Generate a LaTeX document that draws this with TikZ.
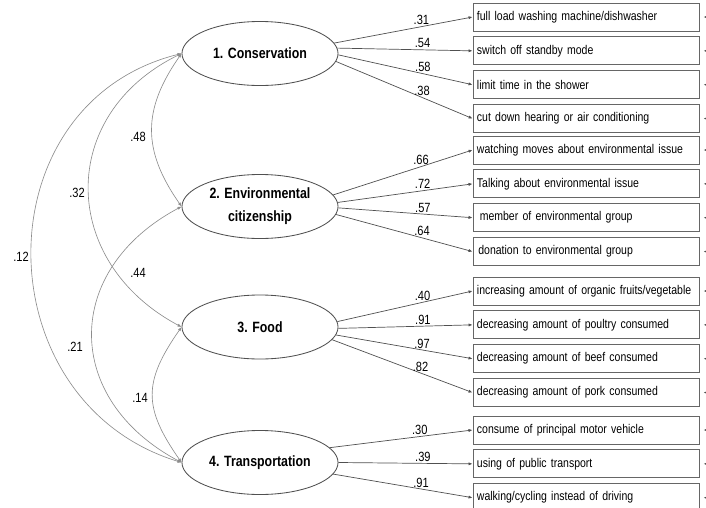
\documentclass[tikz,border=0pt]{standalone}
\usepackage{fontspec}
\setmainfont{Liberation Sans}[FakeStretch=0.83]
\usepackage{tikz}
\usetikzlibrary{arrows.meta,positioning,shapes.geometric}
\definecolor{SEMEdge}{HTML}{505050}
\definecolor{SEMCov}{HTML}{8C8C8C}
\definecolor{SEMBox}{HTML}{666666}

\begin{document}
\begin{tikzpicture}[x=0.025cm,y=0.025cm,
  factor/.style={ellipse,draw=SEMEdge,line width=0.6pt,minimum width=3.9cm,minimum height=1.6cm,inner sep=0pt,align=center,font=\fontsize{10.6}{16.5}\selectfont\bfseries},
  item/.style={draw=SEMBox,line width=0.6pt,minimum width=5.65cm,minimum height=0.7cm,text width=5.45cm,align=left,inner xsep=0.1cm,font=\fontsize{9}{11}\selectfont},
  load/.style={-{Latex[length=1mm,width=0.8mm]},SEMEdge,line width=0.5pt},
  cov/.style={{Latex[length=1mm,width=0.8mm]}-{Latex[length=1mm,width=0.8mm]},SEMCov,line width=0.45pt},
  err/.style={-{Latex[length=1mm,width=0.8mm]},SEMEdge,line width=0.5pt,shorten >=0.1cm},
  coef/.style={text=black,font=\fontsize{9.5}{11}\selectfont,inner sep=1pt},
]
\useasboundingbox (0,0) rectangle (706,-508);

\node[factor] (cons) at (260,-53.5) {1. Conservation};
\node[factor] (citz) at (260,-206.5) {2. Environmental\\citizenship};
\node[factor] (food) at (260,-327) {3. Food};
\node[factor] (trans) at (260,-462.5) {4. Transportation};

\node[item] (b11) at (586,-17) {full load washing machine/dishwasher};
\node[item,below=0.125cm of b11] (b12) {switch off standby mode};
\node[item,below=0.125cm of b12] (b13) {limit time in the shower};
\node[item,below=0.125cm of b13] (b14) {cut down hearing or air conditioning};

\node[item] (b21) at (586,-150) {watching moves about environmental issue};
\node[item,below=0.125cm of b21] (b22) {Talking about environmental issue};
\node[item,below=0.125cm of b22] (b23) {\hspace{2pt}member of environmental group};
\node[item,below=0.125cm of b23] (b24) {\hspace{1pt}donation to environmental group};

\node[item] (b31) at (586,-291) {increasing amount of organic fruits/vegetable};
\node[item,below=0.125cm of b31] (b32) {decreasing amount of poultry consumed};
\node[item,below=0.125cm of b32] (b33) {decreasing amount of beef consumed};
\node[item,below=0.125cm of b33] (b34) {decreasing amount of pork consumed};

\node[item] (b41) at (586,-430) {consume of principal motor vehicle};
\node[item,below=0.125cm of b41] (b42) {using of public transport};
\node[item,below=0.125cm of b42] (b43) {walking/cycling instead of driving};

\draw[load] (cons.8) -- node[coef,above,pos=0.63] (w11) {.31} (b11.west);
\draw[load] (cons.4) -- node[coef,above,pos=0.63] (w12) {.54} (b12.west);
\draw[load] (cons.-1) -- node[coef,above,pos=0.63] (w13) {.58} (b13.west);
\draw[load] (cons.-6) -- node[coef,above,pos=0.63] (w14) {.38} (b14.west);

\draw[load] (citz.9) -- node[coef,above,pos=0.63] (w21) {.66} (b21.west);
\draw[load] (citz.3.5) -- node[coef,above,pos=0.63] (w22) {.72} (b22.west);
\draw[load] (citz.-1) -- node[coef,above,pos=0.63] (w23) {.57} (b23.west);
\draw[load] (citz.-6.5) -- node[coef,above,pos=0.63] (w24) {.64} (b24.west);

\draw[load] (food.4) -- node[coef,above,pos=0.63] (w31) {.40} (b31.west);
\draw[load] (food.-1.5) -- node[coef,above,pos=0.63] (w32) {.91} (b32.west);
\draw[load] (food.-6) -- node[coef,above,pos=0.63] (w33) {.97} (b33.west);
\draw[load] (food.-10) -- node[coef,above,pos=0.63] (w34) {.82} (b34.west);

\draw[load] (trans.12.5) -- node[coef,above,pos=0.63] (w41) {.30} (b41.west);
\draw[load] (trans.0) -- node[coef,above,pos=0.63] (w42) {.39} (b42.west);
\draw[load] (trans.-9.5) -- node[coef,above,pos=0.63] (w43) {.91} (b43.west);

\foreach \b in {b11,b12,b13,b14,b21,b22,b23,b24,b31,b32,b33,b34,b41,b42,b43} {
  \coordinate (e\b) at ([xshift=0.4cm]\b.east);
  \draw[err] (e\b) -- (\b.east);
}

\draw[cov] (cons.west) to[out=235,in=125,looseness=1.15] (citz.west);
\draw[cov] (cons.west) to[out=206,in=152,looseness=1.3] (food.west);
\draw[cov] (cons.west) to[out=194,in=163,looseness=1.3] (trans.west);
\draw[cov] (citz.west) to[out=208,in=152,looseness=1.35] (trans.west);
\draw[cov] (food.west) to[out=235,in=125,looseness=1.27] (trans.west);

\node[coef] (r12) at (138,-137) {.48};
\node[coef] (r13) at (77,-193) {.32};
\node[coef] (r14) at (21,-257) {.12};
\node[coef] (r23) at (138,-273) {.44};
\node[coef] (r24) at (75,-347) {.21};
\node[coef] (r34) at (140,-398) {.14};
\end{tikzpicture}
\end{document}
